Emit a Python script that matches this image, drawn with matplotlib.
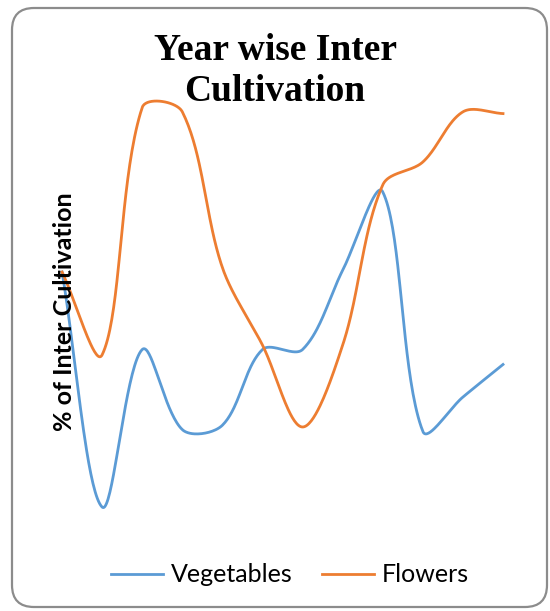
import numpy as np
import matplotlib.pyplot as plt
from matplotlib.patches import FancyBboxPatch

# valores (12 años)
years = list(range(12))
vegetables = [29.3, 2.6, 20.5, 11.4, 11.9, 20.5, 20.5, 29.5, 38.4, 11.2, 15.1, 18.8]
flowers = [29.3, 19.9, 48.0, 47.5, 29.8, 21.0, 11.7, 21.0, 39.2, 41.8, 47.5, 47.3]


def smooth(ax, x, y, n=40):
    # curva suavizada tipo Excel: Bezier con puntos de control escalados
    # por la longitud de cada tramo (en pixeles)
    pts = ax.transData.transform(np.column_stack([x, y]))
    p = np.vstack([pts[0], pts, pts[-1]])
    d = np.linalg.norm(np.diff(p, axis=0), axis=1)
    t = np.linspace(0, 1, n)[:, None]
    out = []
    for i in range(1, len(pts)):
        p0, p1 = p[i], p[i + 1]
        da, db, dc = d[i - 1], d[i], d[i + 1]
        c1 = p0 + (p1 - p[i - 1]) * (db / max(da + db, 1e-9)) / 3
        c2 = p1 - (p[i + 2] - p0) * (db / max(db + dc, 1e-9)) / 3
        b = (1 - t) ** 3 * p0 + 3 * (1 - t) ** 2 * t * c1 + 3 * (1 - t) * t ** 2 * c2 + t ** 3 * p1
        out.append(b)
    out = ax.transData.inverted().transform(np.vstack(out))
    return out[:, 0], out[:, 1]


fig = plt.figure(figsize=(5.5, 6.11), dpi=100)

# marco redondeado
borde = FancyBboxPatch((0.12, 0.04), 5.35, 5.99, boxstyle='round,pad=0,rounding_size=0.22',
                       transform=fig.dpi_scale_trans, facecolor='white', edgecolor='#8c8c8c',
                       linewidth=1.6, zorder=-10)
fig.patches.append(borde)

ax = fig.add_axes([0.0764, 0.1326, 0.8746, 0.7204])
ax.set_facecolor('none')
ax.set_xlim(-0.5, 11.5)
ax.set_ylim(0, 50)
ax.set_xticks([])
ax.set_yticks([])
for s in ax.spines.values():
    s.set_visible(False)

vx, vy = smooth(ax, years, vegetables)
fx, fy = smooth(ax, years, flowers)
ax.plot(vx, vy, color='#5B9BD5', lw=2.0, label='Vegetables', clip_on=False)
ax.plot(fx, fy, color='#ED7D31', lw=2.0, label='Flowers', clip_on=False)

fig.text(0.5, 1 - 71 / 611, 'Year wise Inter\nCultivation', ha='center', va='center',
         fontsize=27, fontweight='bold', family='Liberation Serif', linespacing=1.25)
fig.text(64 / 550, 1 - 312 / 611, '% of Inter Cultivation', rotation=90, ha='center', va='center',
         fontsize=18, fontweight='bold', family='Lato')

fig.legend(loc='center', bbox_to_anchor=(0.527, 1 - 575 / 611), ncol=2, frameon=False,
           prop={'family': 'Lato', 'size': 18}, handlelength=2.1, columnspacing=1.15,
           handletextpad=0.32)

plt.savefig('out.png', dpi=100)
